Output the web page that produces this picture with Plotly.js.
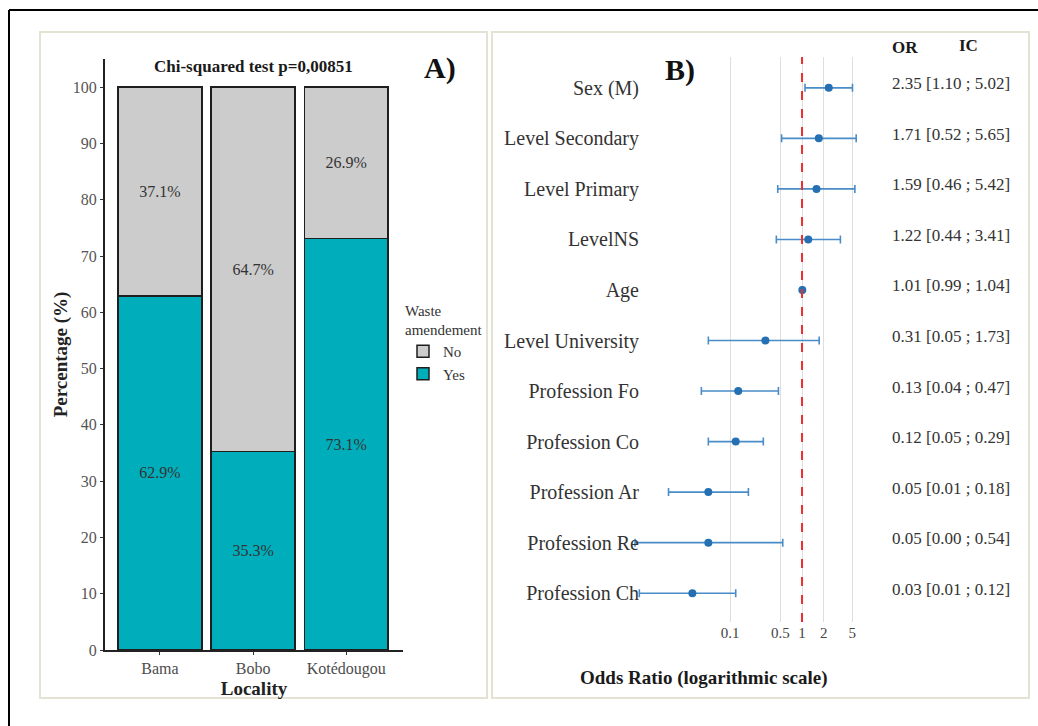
<!DOCTYPE html>
<html><head><meta charset="utf-8">
<script src="https://cdn.plot.ly/plotly-3.0.1.min.js"></script>
<style>html,body{margin:0;padding:0;background:#fff}#chart{width:1038px;height:726px}</style>
</head><body><div id="chart"></div>
<script>
// ---- Data ----
const localities = ["Bama", "Bobo", "Kotédougou"];
const yesPct = [62.9, 35.3, 73.1];
const noPct = [37.1, 64.7, 26.9];
const chiTitle = "Chi-squared test p=0,00851";

const predictors = ["Sex (M)", "Level Secondary", "Level Primary", "LevelNS", "Age", "Level University",
  "Profession Fo", "Profession Co", "Profession Ar", "Profession Re", "Profession Ch"];
const oddsRatio = [2.35, 1.71, 1.59, 1.22, 1.01, 0.31, 0.13, 0.12, 0.05, 0.05, 0.03];
const ciLow = [1.10, 0.52, 0.46, 0.44, 0.99, 0.05, 0.04, 0.05, 0.014, 0.0048, 0.0055];
const ciHigh = [5.02, 5.65, 5.42, 3.41, 1.04, 1.73, 0.47, 0.29, 0.18, 0.54, 0.12];
const orTicks = [0.1, 0.5, 1, 2, 5];
const orTickLabels = ["0.1", "0.5", "1", "2", "5"];

// ---- Helpers (pixel -> paper) ----
const W = 1038, H = 726;
const px = x => x / W;
const py = y => 1 - y / H;
const FONT = "Liberation Serif, Times New Roman, serif";

const barLine = {color: "#1e1e1e", width: 1.5};
const traces = [
  {type: "bar", x: localities, y: yesPct, name: "Yes", xaxis: "x", yaxis: "y",
   marker: {color: "#00AEBB", line: barLine},
   texttemplate: "%{y:.1f}%", textposition: "inside", insidetextanchor: "middle",
   textangle: 0, constraintext: "none", textfont: {color: "#333", size: 16, family: FONT}, hoverinfo: "skip"},
  {type: "bar", x: localities, y: noPct, name: "No", xaxis: "x", yaxis: "y",
   marker: {color: "#CCCCCC", line: barLine},
   texttemplate: "%{y:.1f}%", textposition: "inside", insidetextanchor: "middle",
   textangle: 0, constraintext: "none", textfont: {color: "#333", size: 16, family: FONT}, hoverinfo: "skip"},
  {type: "scatter", mode: "markers", x: oddsRatio, y: predictors, xaxis: "x2", yaxis: "y2",
   showlegend: false, marker: {color: "#2470b3", size: 8},
   error_x: {type: "data", symmetric: false,
     array: oddsRatio.map((v, i) => ciHigh[i] - v),
     arrayminus: oddsRatio.map((v, i) => v - ciLow[i]),
     color: "#4a8cc8", thickness: 1.6, width: 4}}
];

const note = (x, y, text, size, extra) => Object.assign({xref: "paper", yref: "paper", x: px(x), y: py(y),
  xanchor: "center", yanchor: "middle", text: text, showarrow: false, font: {size: size, color: "#1a1a1a"}}, extra || {});

const annotations = [
  note(253, 67, "<b>" + chiTitle + "</b>", 17),
  note(440, 68, "<b>A)</b>", 30, {font: {size: 30, color: "#111"}}),
  note(680, 70, "<b>B)</b>", 30, {font: {size: 30, color: "#111"}}),
  note(905, 47, "<b>OR</b>", 17),
  note(968, 45, "<b>IC</b>", 17),
  note(704, 678, "<b>Odds Ratio (logarithmic scale)</b>", 19)
];
predictors.forEach((p, i) => {
  annotations.push({xref: "paper", yref: "y2", x: px(890), y: p, xanchor: "left", yanchor: "middle", yshift: 4,
    showarrow: false, font: {size: 17, color: "#333"},
    text: oddsRatio[i].toFixed(2) + " [" + ciLow[i].toFixed(2) + " ; " + ciHigh[i].toFixed(2) + "]"});
});

const shapes = [
  // outer frame (top and left)
  {type: "line", xref: "paper", yref: "paper", x0: px(9), x1: px(1038), y0: py(10), y1: py(10), line: {color: "#000", width: 2}},
  {type: "line", xref: "paper", yref: "paper", x0: px(9), x1: px(9), y0: py(10), y1: py(726), line: {color: "#000", width: 2}},
  // panel borders
  {type: "rect", xref: "paper", yref: "paper", x0: px(40), x1: px(487), y0: py(32), y1: py(698), line: {color: "#E4E2D2", width: 2}},
  {type: "rect", xref: "paper", yref: "paper", x0: px(492), x1: px(1029), y0: py(32), y1: py(698), line: {color: "#E4E2D2", width: 2}},
  // reference line OR = 1
  {type: "line", xref: "x2", yref: "paper", x0: 1, x1: 1, y0: py(622), y1: py(57), line: {color: "#E8302F", width: 2, dash: "dash"}}
];

const layout = {
  width: W, height: H, margin: {l: 0, r: 0, t: 0, b: 0},
  paper_bgcolor: "#fff", plot_bgcolor: "rgba(0,0,0,0)",
  font: {family: FONT, color: "#333"},
  barmode: "stack", bargap: 0.1,
  showlegend: true,
  legend: {x: px(403), y: py(296), xanchor: "left", yanchor: "top", traceorder: "reversed",
    title: {text: "Waste<br>amendement", font: {size: 15, color: "#333"}},
    font: {size: 15, color: "#333"}, bgcolor: "rgba(0,0,0,0)", itemwidth: 30, tracegroupgap: 0},
  xaxis: {domain: [px(105), px(403)], range: [-0.59, 2.61], type: "category",
    showline: true, linecolor: "#222", linewidth: 2, ticks: "outside", ticklen: 3, tickcolor: "#333",
    tickfont: {size: 16, color: "#4d4d4d"}, showgrid: false, zeroline: false,
    title: {text: "<b>Locality</b>", font: {size: 19, color: "#222"}, standoff: 4}},
  yaxis: {domain: [py(650), py(59)], range: [0, 105], tickvals: [0,10,20,30,40,50,60,70,80,90,100],
    showline: true, linecolor: "#222", linewidth: 2, ticks: "outside", ticklen: 3, tickcolor: "#333",
    tickfont: {size: 16, color: "#555"}, showgrid: false, zeroline: false,
    title: {text: "<b>Percentage (%)</b>", font: {size: 19, color: "#222"}, standoff: 0}},
  xaxis2: {domain: [px(630), px(870)], type: "log", range: [-2.389, 0.944], anchor: "y2",
    tickvals: orTicks, ticktext: orTickLabels, ticks: "", showline: false, zeroline: false,
    showgrid: true, gridcolor: "#dedede", gridwidth: 1, tickfont: {size: 15, color: "#444"}},
  yaxis2: {domain: [py(622), py(57)], type: "category", categoryarray: predictors, categoryorder: "array",
    range: [10.57, -0.61], anchor: "x2", showgrid: false, showline: false, zeroline: false, ticks: "",
    tickfont: {size: 20, color: "#333"}, ticklabelstandoff: -10},
  annotations: annotations,
  shapes: shapes
};

Plotly.newPlot("chart", traces, layout, {displayModeBar: false, staticPlot: true});
</script>
</body></html>
